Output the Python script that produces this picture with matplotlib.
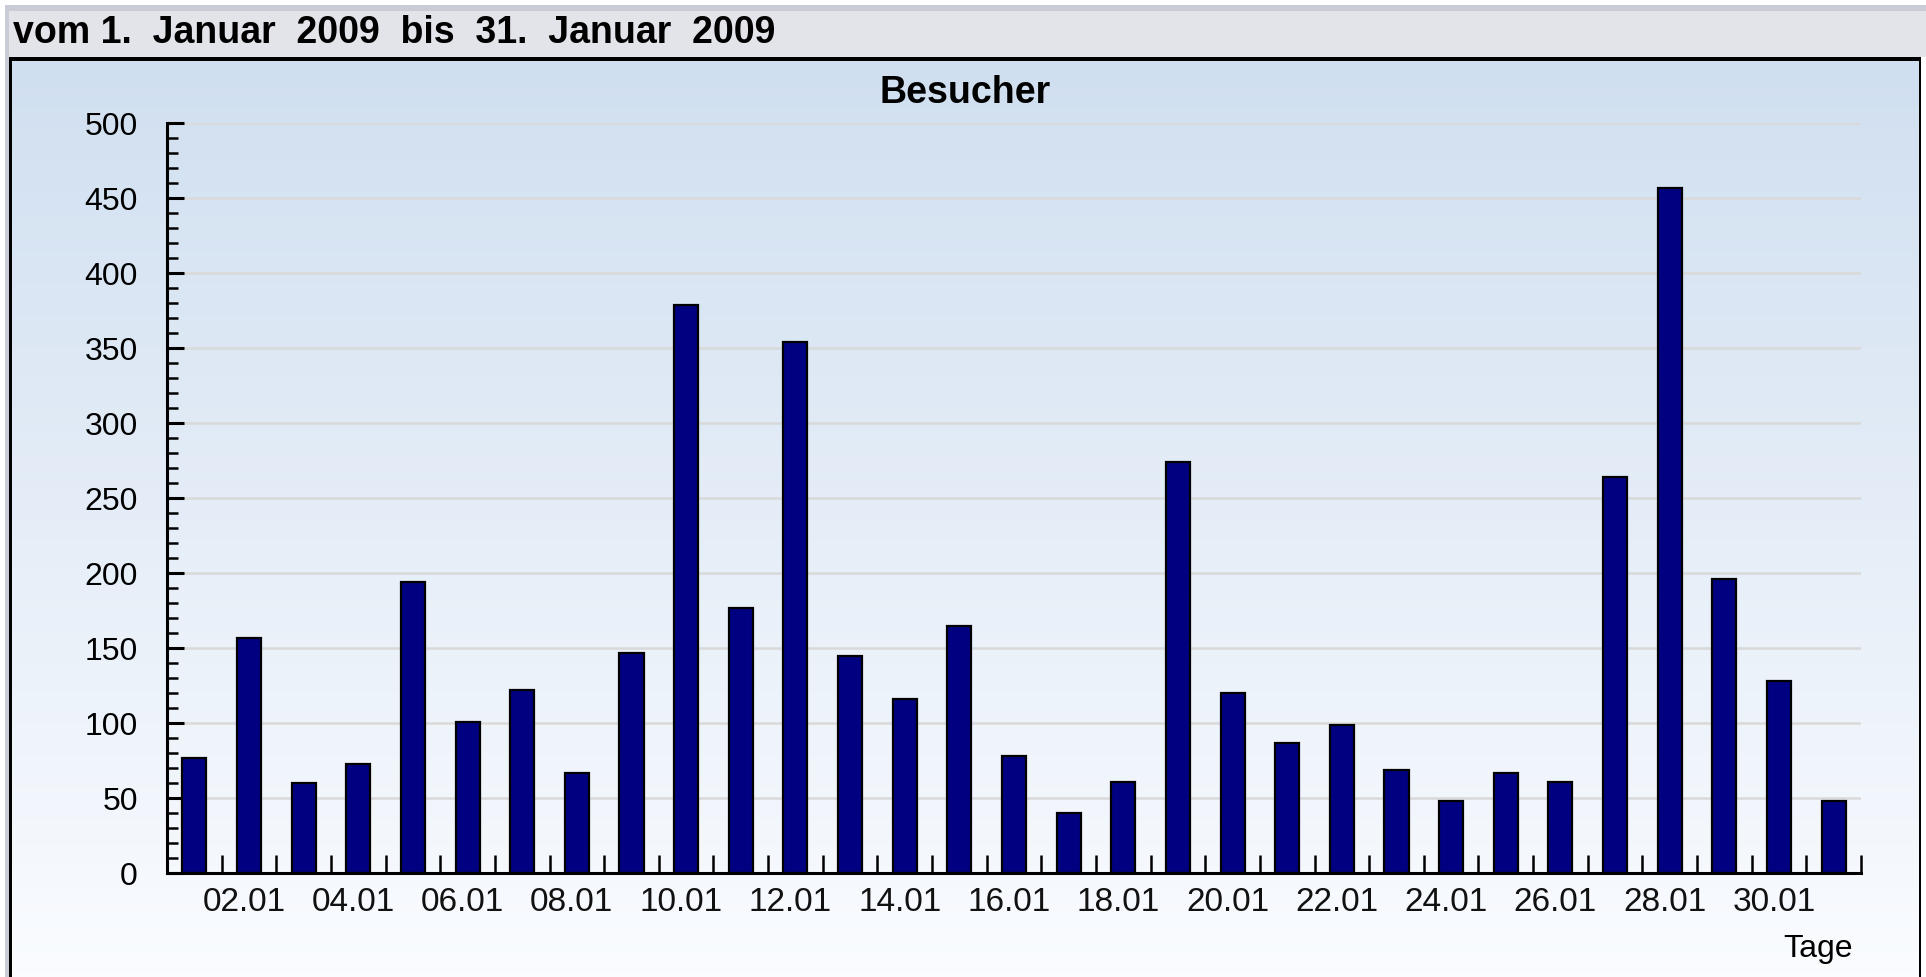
import matplotlib
matplotlib.use('Agg')
import matplotlib.pyplot as plt
import matplotlib.transforms as mtransforms
import numpy as np
from matplotlib.patches import Rectangle
from matplotlib.ticker import MultipleLocator, FixedLocator

# ---- data ----
days = list(range(1, 32))
visitors = [77, 157, 60, 73, 194, 101, 122, 67, 147, 379, 177, 354, 145, 116, 165,
            78, 40, 61, 274, 120, 87, 99, 69, 48, 67, 61, 264, 457, 196, 128, 48]
tick_days = list(range(2, 31, 2))
tick_labels = [f"{d:02d}.01" for d in tick_days]
header_text = "vom 1.  Januar  2009  bis  31.  Januar  2009"
chart_title = "Besucher"
x_label = "Tage"

plt.rcParams['font.family'] = ['Liberation Sans', 'DejaVu Sans']

W, H = 1926, 977
fig = plt.figure(figsize=(W / 100, H / 100), dpi=100)
fig.patch.set_facecolor('white')


def fx(px):
    return px / W


def fy(py):
    return 1 - py / H


def frect(x0, y0, x1, y1, color):
    fig.patches.append(Rectangle((fx(x0), fy(y1)), fx(x1) - fx(x0), fy(y0) - fy(y1),
                                 transform=fig.transFigure, facecolor=color,
                                 edgecolor='none', zorder=-10))


# ---- frame / header ----
frect(5, 5, 1926, 977, '#c9cbd5')
frect(9, 11, 1926, 57, '#e3e4ea')
frect(9, 57, 1921, 977, 'black')
frect(1921, 57, 1926, 977, 'white')

# gradient panel
bg = fig.add_axes([fx(12), 0, fx(1918) - fx(12), fy(61)])
bg.set_zorder(1)
grad = np.linspace(0, 1, 256).reshape(-1, 1)
top = np.array([208, 223, 240]) / 255
bot = np.array([250, 252, 255]) / 255
img = top[None, None, :] * (1 - grad[:, :, None]) + bot[None, None, :] * grad[:, :, None]
bg.imshow(img, aspect='auto', extent=[0, 1, 0, 1], origin='upper')
bg.set_axis_off()

# ---- main axes ----
ax = fig.add_axes([fx(167), fy(873.3), fx(1861) - fx(167), (873.3 - 123.3) / H])
ax.set_zorder(2)
ax.set_facecolor('none')
ax.bar(days, visitors, width=0.44, color='#000080', edgecolor='black', linewidth=1.6, zorder=3)
ax.set_xlim(0.5, 31.5)
ax.set_ylim(0, 500)

for s in ['top', 'right']:
    ax.spines[s].set_visible(False)
for s in ['left', 'bottom']:
    ax.spines[s].set_linewidth(2.2)
    ax.spines[s].set_color('black')
    ax.spines[s].set_zorder(5)

ax.yaxis.set_major_locator(MultipleLocator(50))
ax.yaxis.set_minor_locator(MultipleLocator(10))
ax.tick_params(axis='y', which='major', direction='in', length=12.5, width=2.2,
               labelsize=23, pad=21, colors='black')
ax.tick_params(axis='y', which='minor', direction='in', length=8, width=1.8)

ax.xaxis.set_major_locator(FixedLocator(tick_days))
ax.set_xticklabels(tick_labels)
ax.xaxis.set_minor_locator(FixedLocator(list(np.arange(1.5, 32, 1.0))))
ax.tick_params(axis='x', which='major', length=0, labelsize=24, pad=10, labelcolor='#111111')
ax.tick_params(axis='x', which='minor', direction='in', length=13, width=1.8)

offset = mtransforms.ScaledTranslation(-5 / 100, 0, fig.dpi_scale_trans)
for lbl in ax.get_xticklabels():
    lbl.set_transform(lbl.get_transform() + offset)

ax.yaxis.grid(True, which='major', color='#d9d9d9', linewidth=1.8, zorder=1)
ax.set_axisbelow(True)

# ---- texts ----
fig.text(fx(13), fy(43), header_text, ha='left', va='baseline', fontsize=27, weight='bold', zorder=10)
fig.text(fx(965), fy(103), chart_title, ha='center', va='baseline', fontsize=27, weight='bold', zorder=10)
fig.text(fx(1853), fy(957), x_label, ha='right', va='baseline', fontsize=23, zorder=10)

fig.savefig('out.png', dpi=100, facecolor=fig.get_facecolor())
